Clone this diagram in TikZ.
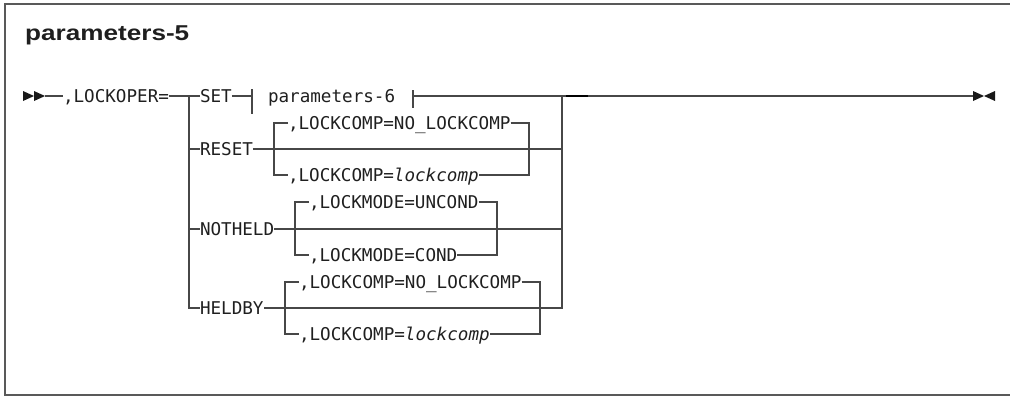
\documentclass[tikz,border=0pt]{standalone}
\usepackage{fontspec}
\newfontfamily\diagmono{DejaVu Sans Mono}
\newfontfamily\titlefont{Liberation Sans}
\begin{document}
\begin{tikzpicture}[x=1pt,y=-1pt,
  txt/.style={anchor=west,inner sep=0pt,outer sep=0pt,text height=17pt,text depth=4pt,
    font=\diagmono\fontsize{17.6}{20}\selectfont,text=black!88},
  rail/.style={draw=black!72,line width=1.4pt},
  frameline/.style={draw=black!65,line width=2pt},
  tip/.style={fill=black!90,draw=none}]
\useasboundingbox (0,0) rectangle (1010,399);
% frame
\draw[frameline] (1010,4) -- (5,4) -- (5,395) -- (1010,395);
% title
\node[anchor=base west,inner sep=0pt,text=black!88,font=\titlefont\bfseries\fontsize{21.5}{24}\selectfont] (title) at (25,40) {\scalebox{1.215}[1]{parameters-5}};
% text nodes
\node[txt] (lockoper) at (63,96) {,LOCKOPER=};
\node[txt] (set) at (200,96) {SET};
\node[txt] (p6) at (268,96) {parameters-6};
\node[txt] (reset) at (200,149) {RESET};
\node[txt] (rtop) at (288,123) {,LOCKCOMP=NO\_LOCKCOMP};
\node[txt] (rbot) at (288,175) {,LOCKCOMP=\textit{lockcomp}};
\node[txt] (notheld) at (200,229) {NOTHELD};
\node[txt] (ntop) at (309,202) {,LOCKMODE=UNCOND};
\node[txt] (nbot) at (309,255) {,LOCKMODE=COND};
\node[txt] (heldby) at (200,308) {HELDBY};
\node[txt] (htop) at (299,282) {,LOCKCOMP=NO\_LOCKCOMP};
\node[txt] (hbot) at (299,334) {,LOCKCOMP=\textit{lockcomp}};
% coordinates
\coordinate (s0) at (23,96);
\coordinate (s1) at (45,96);
\coordinate (b0) at (189,96);
\coordinate (barL) at (252,96);
\coordinate (barR) at (413,96);
\coordinate (c0) at (562,96);
\coordinate (e0) at (973,96);
\coordinate (ri) at (274,149);
\coordinate (ro) at (529,149);
\coordinate (ni) at (295,229);
\coordinate (no) at (497,229);
\coordinate (hi) at (285,308);
\coordinate (ho) at (540,308);
% start / end tips
\fill[tip] (s0) ++(0,-5) -- ++(11,5) -- ++(-11,5) -- cycle;
\fill[tip] (s0) ++(11,-5) -- ++(11,5) -- ++(-11,5) -- cycle;
\fill[tip] (e0) ++(0,-5) -- ++(11,5) -- ++(-11,5) -- cycle;
\fill[tip] (e0) ++(22,-5) -- ++(-11,5) -- ++(11,5) -- cycle;
% main line
\draw[rail] (s1) -- (lockoper.west);
\draw[rail] (lockoper.east) -- (b0) -- (set.west);
\draw[rail] (set.east) -- (barL);
\draw[rail] (barL) ++(0,-7) -- ++(0,25);
\draw[rail] (barR) ++(0,-6) -- ++(0,18);
\draw[rail] (barR) -- (c0) -- (e0);
\draw[draw=black,line width=2.2pt] (566,96) -- (588,96);
% choice spine and collector
\draw[rail] (b0) |- (heldby.west);
\draw[rail] (b0 |- reset.west) -- (reset.west);
\draw[rail] (b0 |- notheld.west) -- (notheld.west);
\draw[rail] (c0) |- (heldby.east);
\draw[rail] (reset.east) -- (reset.east -| c0);
\draw[rail] (notheld.east) -- (notheld.east -| c0);
% RESET options
\draw[rail] (rtop.west) -| (ri) |- (rbot.west);
\draw[rail] (rtop.east) -| (ro) |- (rbot.east);
% NOTHELD options
\draw[rail] (ntop.west) -| (ni) |- (nbot.west);
\draw[rail] (ntop.east) -| (no) |- (nbot.east);
% HELDBY options
\draw[rail] (htop.west) -| (hi) |- (hbot.west);
\draw[rail] (htop.east) -| (ho) |- (hbot.east);
\end{tikzpicture}
\end{document}
